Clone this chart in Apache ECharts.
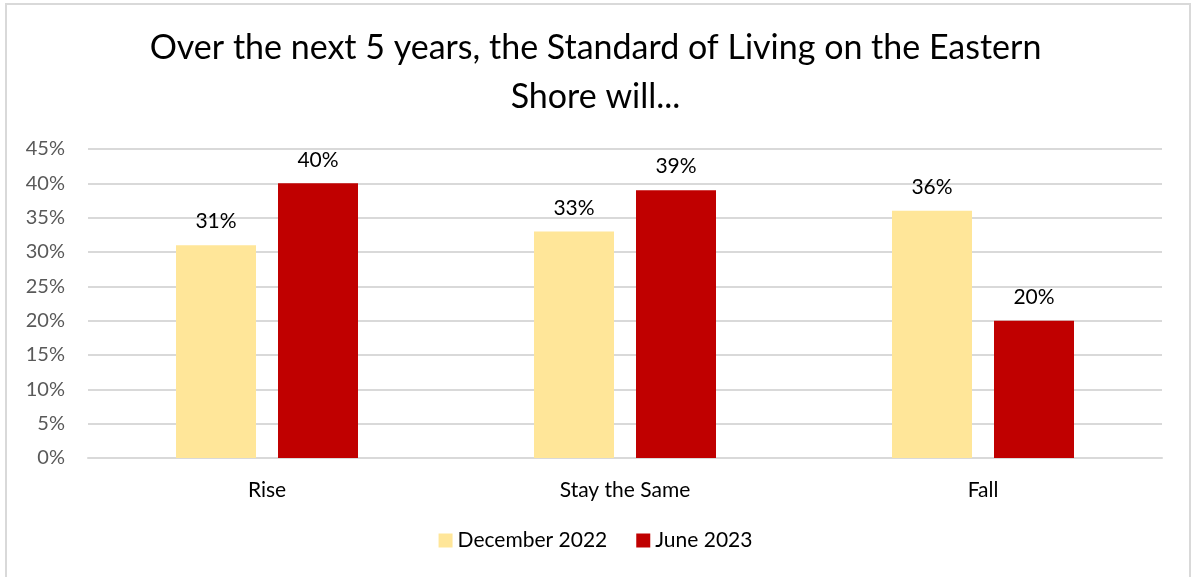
<!DOCTYPE html>
<html>
<head>
<meta charset="utf-8">
<script src="https://cdn.jsdelivr.net/npm/echarts@6/dist/echarts.min.js"></script>
<style>
  html, body { margin: 0; padding: 0; background: #fff; }
  #chart { width: 1191px; height: 577px; }
</style>
</head>
<body>
<div id="chart"></div>
<script>
const categories = ['Rise', 'Stay the Same', 'Fall'];
const seriesNames = ['December 2022', 'June 2023'];
const dec2022 = [0.31, 0.33, 0.36];
const jun2023 = [0.40, 0.39, 0.20];
const seriesColors = ['#FFE699', '#C00000'];

const FONT = 'Lato, "Noto Sans", sans-serif';
const pct = v => Math.round(v * 100) + '%';

const chart = echarts.init(document.getElementById('chart'));

function barSeries(name, data, color) {
  return {
    name: name,
    type: 'bar',
    data: data,
    barWidth: 80,
    barGap: '27.5%',
    itemStyle: { color: color },
    label: {
      show: true,
      position: 'top',
      distance: 13,
      formatter: p => pct(p.value),
      fontFamily: FONT,
      fontSize: 21,
      color: '#000'
    }
  };
}

chart.setOption({
  animation: false,
  backgroundColor: '#fff',
  title: {
    text: 'Over the next 5 years, the Standard of Living on the Eastern\nShore will...',
    left: 'center',
    top: 19,
    textStyle: {
      fontFamily: FONT,
      fontSize: 34,
      fontWeight: 'normal',
      color: '#000',
      lineHeight: 49
    }
  },
  graphic: [{
    type: 'rect',
    shape: { x: 6, y: 4, width: 1184, height: 620 },
    style: { fill: 'none', stroke: '#d9d9d9', lineWidth: 2 },
    silent: true,
    z: 100
  }],
  legend: {
    data: seriesNames,
    bottom: 21,
    left: 'center',
    itemWidth: 14,
    itemHeight: 14,
    itemGap: 29,
    icon: 'rect',
    textStyle: { fontFamily: FONT, fontSize: 21, color: '#000' }
  },
  grid: { left: 88, right: 29, top: 149, bottom: 119, containLabel: false },
  xAxis: {
    type: 'category',
    data: categories,
    axisLine: { lineStyle: { color: '#d9d9d9', width: 2 } },
    axisTick: { show: false },
    axisLabel: { fontFamily: FONT, fontSize: 21, color: '#000', margin: 22 }
  },
  yAxis: {
    type: 'value',
    min: 0,
    max: 0.45,
    interval: 0.05,
    axisLine: { show: false },
    axisTick: { show: false },
    splitLine: { lineStyle: { color: '#d9d9d9', width: 2 } },
    axisLabel: {
      fontFamily: FONT,
      fontSize: 20,
      color: '#595959',
      margin: 23,
      formatter: v => pct(v)
    }
  },
  series: [
    barSeries(seriesNames[0], dec2022, seriesColors[0]),
    barSeries(seriesNames[1], jun2023, seriesColors[1])
  ]
});
</script>
</body>
</html>
